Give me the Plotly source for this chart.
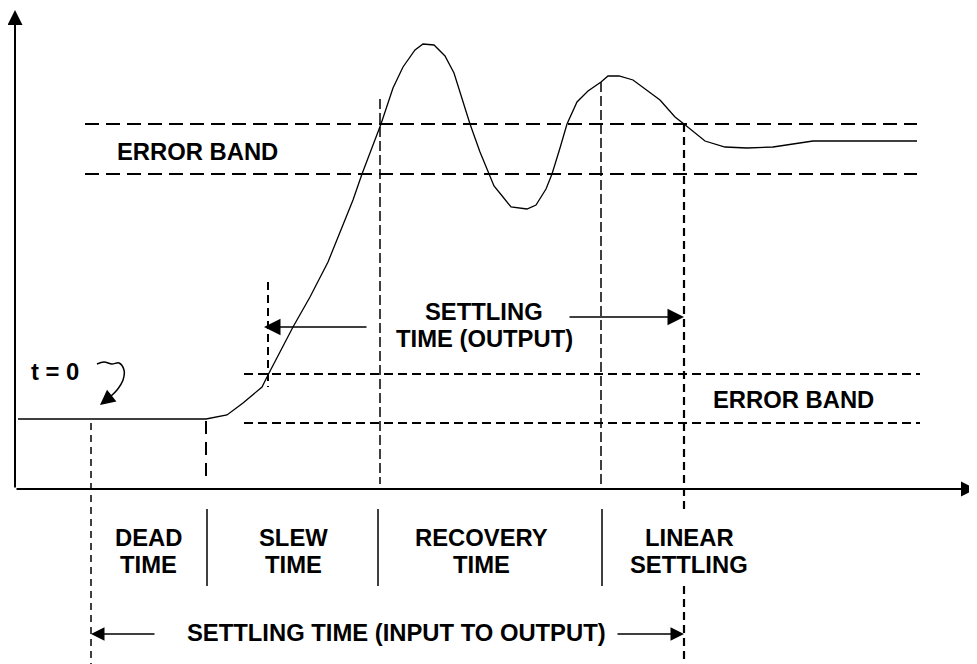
import plotly.graph_objects as go

# ---- data (x = time position, y = screen level, top = 0) ----
curve_t = [18, 206, 227, 243, 262, 268, 293, 310, 328, 340, 353, 362, 381, 393, 403,
           415, 423, 434, 445, 454, 470, 480, 489, 494, 503, 511, 527, 536, 546, 552,
           560, 567, 577, 588, 601, 608, 619, 633, 660, 675, 684, 705, 725, 747, 773,
           813, 917]
curve_v = [419, 419, 415, 403, 387, 375, 327, 297, 262, 233, 200, 174, 124, 88, 67,
           50, 44, 45, 56, 73, 124, 152, 174, 186, 197, 207, 209, 205, 189, 174,
           148, 124, 102, 91, 82, 76, 76, 80, 100, 117, 124, 141, 147, 148, 147,
           141, 141]

# event times
t_zero = 91
t_slew_start = 206
t_slew_mark = 268
t_recovery_start = 380
t_linear_start = 601
t_settled = 684

# error bands (upper: final value band, lower: initial band)
upper_band = [124, 174]
upper_band_x = [85, 917]
lower_band = [374, 423]
lower_band_x = [244, 920]

axis_origin = [15, 489]
axis_end = [976, 10]

phase_labels = [("DEAD", "TIME"), ("SLEW", "TIME"), ("RECOVERY", "TIME"), ("LINEAR", "SETTLING")]
phase_centers = [148, 293, 481, 689]
phase_separators = [207, 378, 602]
phase_label_span = [509, 586]

curl_t = [97, 104, 112, 119, 124, 123, 117, 110, 105]
curl_v = [364, 362, 364, 363, 370, 380, 390, 397, 401]

FONT = dict(family="Liberation Sans, Arial, sans-serif", size=23.8, color="#000", weight="bold")

# page offset of the plot inside the browser page (body margin)
PAGE_OFFSET = 8

fig = go.Figure()

# response curve
fig.add_trace(go.Scatter(x=curve_t, y=curve_v, mode="lines",
                         line=dict(color="#000", width=1.3), hoverinfo="skip"))
# curly pointer
fig.add_trace(go.Scatter(x=curl_t, y=curl_v, mode="lines",
                         line=dict(color="#000", width=1.5, shape="spline"), hoverinfo="skip"))

shapes = []
def dline(x0, y0, x1, y1, width, dash):
    shapes.append(dict(type="line", x0=x0, y0=y0, x1=x1, y1=y1, xref="x", yref="y",
                       line=dict(color="#000", width=width, dash=dash)))

# error bands
for y in upper_band:
    dline(upper_band_x[0], y, upper_band_x[1], y, 2, "14px,7px")
for y in lower_band:
    dline(lower_band_x[0], y, lower_band_x[1], y, 2, "9px,5px")

# vertical markers
dline(t_zero, lower_band[1], t_zero, 664, 1.5, "7px,5px")
dline(t_slew_start, lower_band[1] - 2, t_slew_start, 480, 2, "13px,8px")
dline(t_slew_mark, 282, t_slew_mark, 387, 2, "8px,5px")
dline(t_recovery_start, 99, t_recovery_start, 484, 1.5, "10px,4px")
dline(t_linear_start, 82, t_linear_start, 486, 1.5, "10px,4px")
# settled marker, interrupted by the LINEAR SETTLING label
dline(t_settled, upper_band[0], t_settled, phase_label_span[0], 2.2, "8px,5px")
dline(t_settled, phase_label_span[1], t_settled, 664, 2.2, "8px,5px")

# phase separators (solid)
for x in phase_separators:
    dline(x, phase_label_span[0], x, phase_label_span[1], 1.5, "solid")

annotations = []
def arrow(x0, y0, x1, y1, width=1.5, head=2, size=1.2):
    annotations.append(dict(x=x1, y=y1, ax=x0, ay=y0, xref="x", yref="y", axref="x", ayref="y",
                            text="", showarrow=True, arrowhead=head, arrowsize=size,
                            arrowwidth=width, arrowcolor="#000", standoff=0, startstandoff=0))

def label(x, y, txt):
    annotations.append(dict(x=x, y=y, xref="x", yref="y", text=txt, showarrow=False,
                            font=FONT, xanchor="center", yanchor="middle"))

# axes
arrow(axis_origin[0], axis_origin[1], axis_origin[0], axis_end[1], width=2, head=2, size=1.5)
arrow(axis_origin[0], axis_origin[1], axis_end[0], axis_origin[1], width=2, head=2, size=1.5)

# settling time (output) arrows
arrow(368, 327, t_slew_mark - 4, 327, width=1.5, head=2, size=2.2)
arrow(568, 317, t_settled, 317, width=1.5, head=2, size=2.2)
# settling time (input to output) arrows
arrow(156, 634, t_zero, 634, width=1.5, head=2, size=1.8)
arrow(616, 634, t_settled, 634, width=1.5, head=2, size=1.8)
# curly pointer head
arrow(curl_t[-1], curl_v[-1], 100, 405, width=1.5, head=2, size=2)

label(197, 151, "ERROR BAND")
label(793, 399, "ERROR BAND")
label(55, 371, "t = 0")
label(484, 311, "SETTLING")
label(484, 338, "TIME (OUTPUT)")
label(396, 632, "SETTLING TIME (INPUT TO OUTPUT)")
for (l1, l2), cx in zip(phase_labels, phase_centers):
    label(cx, 537, l1)
    label(cx, 564, l2)

fig.update_layout(
    width=977, height=664, margin=dict(l=0, r=0, t=0, b=0),
    paper_bgcolor="white", plot_bgcolor="white", showlegend=False,
    xaxis=dict(range=[PAGE_OFFSET, 977 + PAGE_OFFSET], visible=False, fixedrange=True),
    yaxis=dict(range=[664 + PAGE_OFFSET, PAGE_OFFSET], visible=False, fixedrange=True),
    shapes=shapes, annotations=annotations,
)

fig.write_html("out.html")
